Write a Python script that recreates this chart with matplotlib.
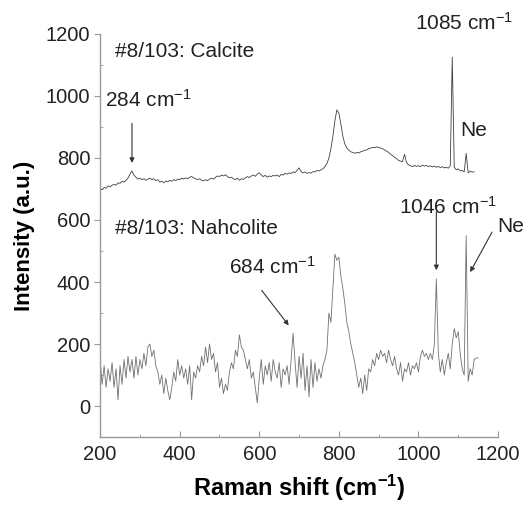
import numpy as np
import matplotlib
matplotlib.use("Agg")
import matplotlib.pyplot as plt
from matplotlib.ticker import MultipleLocator

plt.rcParams['font.family'] = ['Liberation Sans', 'DejaVu Sans']
plt.rcParams['mathtext.fontset'] = 'custom'
plt.rcParams['mathtext.rm'] = 'Liberation Sans'
plt.rcParams['mathtext.bf'] = 'Liberation Sans:bold'
plt.rcParams['mathtext.it'] = 'Liberation Sans:italic'

# ---- data ----
calcite_shift = np.arange(200, 1145, 5)
calcite_int = [
    700, 698, 705, 702, 710, 707, 712, 715, 712, 720, 718, 725, 722, 728, 735, 748, 758, 745, 738, 732,
    735, 730, 733, 728, 732, 735, 730, 733, 727, 730, 722, 725, 720, 726, 723, 728, 725, 730, 727, 732,
    730, 735, 732, 736, 733, 738, 740, 736, 733, 730, 733, 728, 726, 730, 727, 732, 735, 732, 738, 742,
    740, 745, 742, 746, 740, 736, 738, 733, 730, 735, 728, 733, 731, 736, 740, 737, 742, 745, 741, 748,
    752, 745, 740, 744, 738, 742, 740, 744, 742, 745, 740, 747, 745, 750, 748, 752, 750, 755, 753, 760,
    768, 756, 752, 755, 750, 753, 751, 756, 755, 760, 758, 762, 765, 772, 782, 800, 830, 870, 920, 955,
    945, 910, 870, 845, 832, 825, 820, 818, 815, 818, 816, 820, 822, 825, 826, 830, 832, 834, 833, 836,
    834, 832, 830, 826, 822, 818, 812, 808, 802, 798, 792, 790, 788, 812, 785, 778, 775, 772, 776, 773,
    775, 772, 777, 774, 776, 772, 775, 771, 774, 770, 773, 769, 772, 768, 770, 767, 775, 1125, 770, 762,
    765, 758, 760, 755, 815, 752, 758, 754, 756,
]

nahcolite_shift = np.arange(200, 1155, 5)
nahcolite_int = [
    150, 70, 130, 60, 120, 80, 140, 60, 120, 20, 130, 70, 150, 90, 160, 110, 150, 90, 160, 100,
    150, 120, 170, 130, 190, 200, 160, 180, 130, 110, 70, 100, 40, 90, 50, 20, 60, 110, 80, 150,
    100, 130, 90, 120, 70, 130, 20, 110, 90, 130, 110, 160, 130, 190, 140, 200, 150, 170, 110, 140,
    60, 90, 40, 70, 50, 110, 140, 120, 180, 160, 230, 190, 180, 150, 120, 150, 90, 110, 60, 10,
    90, 150, 70, 130, 100, 140, 80, 150, 110, 90, 140, 60, 120, 100, 130, 70, 150, 235, 140, 60,
    160, 90, 170, 50, 130, 30, 150, 60, 140, 80, 120, 90, 130, 150, 180, 300, 270, 380, 490, 470,
    480, 420, 380, 330, 270, 240, 200, 170, 140, 100, 60, 90, 40, 100, 50, 120, 110, 150, 130, 170,
    150, 180, 160, 170, 140, 180, 150, 130, 160, 120, 100, 140, 80, 120, 110, 140, 100, 130, 120, 140,
    110, 160, 180, 160, 170, 150, 170, 150, 200, 410, 170, 110, 150, 100, 140, 170, 120, 200, 250, 220,
    240, 170, 120, 100, 550, 80, 120, 100, 150, 155, 155,
]

fig = plt.figure(figsize=(5.27, 5.07), dpi=100)
ax = fig.add_axes([0.19, 0.138, 0.755, 0.795])

ax.plot(calcite_shift, calcite_int, color='#404040', lw=0.6)
ax.plot(nahcolite_shift, nahcolite_int, color='#707070', lw=0.6)

ax.set_xlim(200, 1200)
ax.set_ylim(-100, 1200)
ax.xaxis.set_major_locator(MultipleLocator(200))
ax.xaxis.set_minor_locator(MultipleLocator(100))
ax.yaxis.set_major_locator(MultipleLocator(200))
ax.yaxis.set_minor_locator(MultipleLocator(100))
ax.set_yticks([0, 200, 400, 600, 800, 1000, 1200])

for s in ['top', 'right']:
    ax.spines[s].set_visible(False)
for s in ['left', 'bottom']:
    ax.spines[s].set_color('#999999')
    ax.spines[s].set_linewidth(1.0)

ax.tick_params(axis='x', which='major', direction='in', length=4, color='#999999',
               labelsize=14.5, labelcolor='#222222', pad=6)
ax.tick_params(axis='x', which='minor', direction='in', length=2.5, color='#999999')
ax.tick_params(axis='y', which='major', direction='out', length=4, color='#999999',
               labelsize=14.5, labelcolor='#222222', pad=3)
ax.tick_params(axis='y', which='minor', direction='in', length=2.5, color='#999999')

ax.set_xlabel(r'Raman shift (cm$^{\mathbf{-1}}$)', fontsize=17, fontweight='bold', labelpad=6)
ax.set_ylabel('Intensity (a.u.)', fontsize=16, fontweight='bold', labelpad=8)

fs = 15
ax.text(238, 1144, '#8/103: Calcite', fontsize=fs, va='center', ha='left', color='#222222')
ax.text(238, 572, '#8/103: Nahcolite', fontsize=fs, va='center', ha='left', color='#222222')
ax.text(213, 989, r'284 cm$^{-1}$', fontsize=fs, va='center', ha='left', color='#222222')
ax.text(992, 1235, r'1085 cm$^{-1}$', fontsize=fs, va='center', ha='left', color='#222222',
        clip_on=False)
ax.text(1104, 890, 'Ne', fontsize=fs, va='center', ha='left', color='#222222')
ax.text(950, 642, r'1046 cm$^{-1}$', fontsize=fs, va='center', ha='left', color='#222222')
ax.text(525, 448, r'684 cm$^{-1}$', fontsize=fs, va='center', ha='left', color='#222222')
ax.text(1197, 578, 'Ne', fontsize=fs, va='center', ha='left', color='#222222', clip_on=False)

arrow = dict(arrowstyle='-|>', color='#333333', lw=0.8, mutation_scale=7, shrinkA=0, shrinkB=0)
ax.annotate('', xy=(280, 784), xytext=(280, 912), arrowprops=arrow)
ax.annotate('', xy=(674, 260), xytext=(606, 373), arrowprops=arrow)
ax.annotate('', xy=(1045, 438), xytext=(1045, 626), arrowprops=arrow)
ax.annotate('', xy=(1130, 432), xytext=(1185, 561), arrowprops=arrow, annotation_clip=False)

fig.savefig('out.png', dpi=100)
